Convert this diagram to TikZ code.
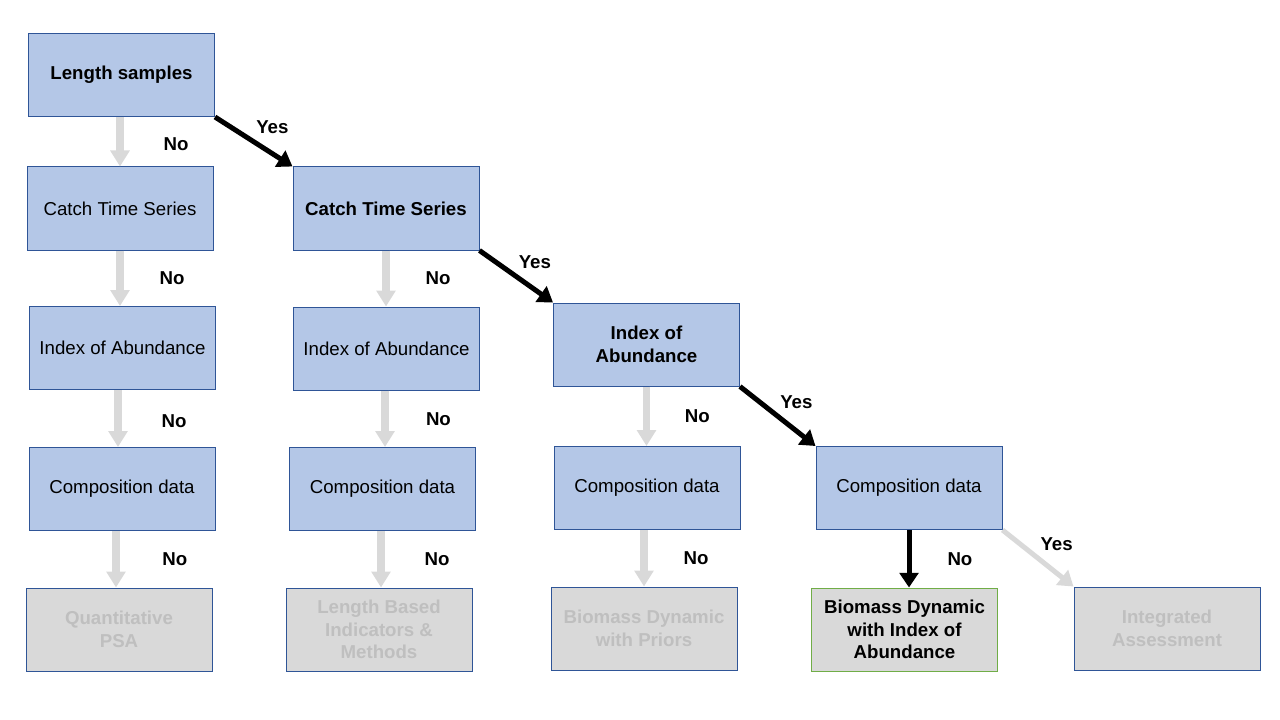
\documentclass[tikz,border=0pt]{standalone}
\usepackage{fontspec}
\setmainfont{Liberation Sans}
\usetikzlibrary{positioning}
\usetikzlibrary{arrows.meta}
\definecolor{boxblue}{HTML}{B4C7E7}
\definecolor{boxline}{HTML}{2F5597}
\definecolor{outgray}{HTML}{D9D9D9}
\definecolor{outtext}{HTML}{BFBFBF}
\definecolor{outgreen}{HTML}{70AD47}
\begin{document}
\begin{tikzpicture}[x=0.75pt,y=-0.75pt,
    box/.style={draw=boxline,line width=0.75pt,fill=boxblue,minimum width=139.5pt,
        minimum height=62.25pt,align=center,inner sep=2pt,font=\fontsize{14}{17}\selectfont},
    boldbox/.style={box,font=\fontsize{14}{17}\selectfont\bfseries},
    endbox/.style={box,fill=outgray,text=outtext,font=\fontsize{14}{17}\selectfont\bfseries},
    chosen/.style={endbox,draw=outgreen,text=black},
    noarrow/.style={draw=outgray,line width=5.5pt,-{Triangle[width=14pt,length=12pt]}},
    yesarrow/.style={draw=black,line width=3.75pt,-{Triangle[width=14pt,length=11pt]}},
    greyyes/.style={yesarrow,draw=outgray},
    lbl/.style={font=\fontsize{14}{17}\selectfont\bfseries,inner sep=0pt}]
\useasboundingbox (0,0) rectangle (1280,720);
% first column
\node[boldbox] (ls) at (121.5,75) {Length samples};
\node[box] (cts1) at (120,208.5) {Catch Time Series};
\node[box] (ioa1) at (122.5,348) {Index of Abundance};
\node[box] (cd1) at (122,489) {Composition data};
\node[endbox] (psa) at (119,629.5) {Quantitative\\PSA};
% second column
\node[boldbox] (cts2) at (386,208.5) {Catch Time Series};
\node[box] (ioa2) at (386.5,348.5) {Index of Abundance};
\node[box] (cd2) at (382.5,489) {Composition data};
\node[endbox] (lbi) at (379,629.5) {Length Based\\Indicators \&\\Methods};
% third column
\node[boldbox] (ioa3) at (646.5,344.5) {Index of\\Abundance};
\node[box] (cd3) at (647,488) {Composition data};
\node[endbox] (bdp) at (644,628.5) {Biomass Dynamic\\with Priors};
% fourth column
\node[box] (cd4) at (909,488) {Composition data};
\node[chosen] (bdi) at (904.5,629.5) {Biomass Dynamic\\with Index of\\Abundance};
\node[endbox] (ia) at (1167,628.5) {Integrated\\Assessment};

\draw[noarrow] (ls.south -| cts1) -- (cts1.north) node[lbl,midway,right=30pt,yshift=-2pt] {No};
\draw[noarrow] (cts1.south) -- (cts1.south |- ioa1.north) node[lbl,midway,right=27pt] {No};
\draw[noarrow] (ioa1.south -| 118,0) -- (118,0 |- cd1.north) node[lbl,midway,right=30pt,yshift=-2pt] {No};
\draw[noarrow] (cd1.south -| 116,0) -- (116,0 |- psa.north) node[lbl,midway,right=32pt] {No};
\draw[noarrow] (cts2.south) -- (cts2.south |- ioa2.north) node[lbl,midway,right=27pt] {No};
\draw[noarrow] (ioa2.south -| 385,0) -- (385,0 |- cd2.north) node[lbl,midway,right=28pt] {No};
\draw[noarrow] (cd2.south -| 381,0) -- (381,0 |- lbi.north) node[lbl,midway,right=30pt] {No};
\draw[noarrow] (ioa3.south) -- (ioa3.south |- cd3.north) node[lbl,midway,right=26pt] {No};
\draw[noarrow] (cd3.south -| bdp) -- (bdp.north) node[lbl,midway,right=27pt] {No};

\draw[yesarrow] (ls.south east) -- (cts2.north west) node[lbl,midway,above right=4pt and 0pt] {Yes};
\draw[yesarrow] (cts2.south east) -- (ioa3.north west) node[lbl,midway,above right=4pt and 0pt] {Yes};
\draw[yesarrow] (ioa3.south east) -- (cd4.north west) node[lbl,midway,above right=4pt and 0pt] {Yes};
\draw[yesarrow] (cd4.south) -- (cd4.south |- bdi.north) node[lbl,midway,right=27pt] {No};
\draw[greyyes] (cd4.south east) -- (ia.north west) node[lbl,midway,above right=4pt and 0pt] {Yes};
\end{tikzpicture}
\end{document}
